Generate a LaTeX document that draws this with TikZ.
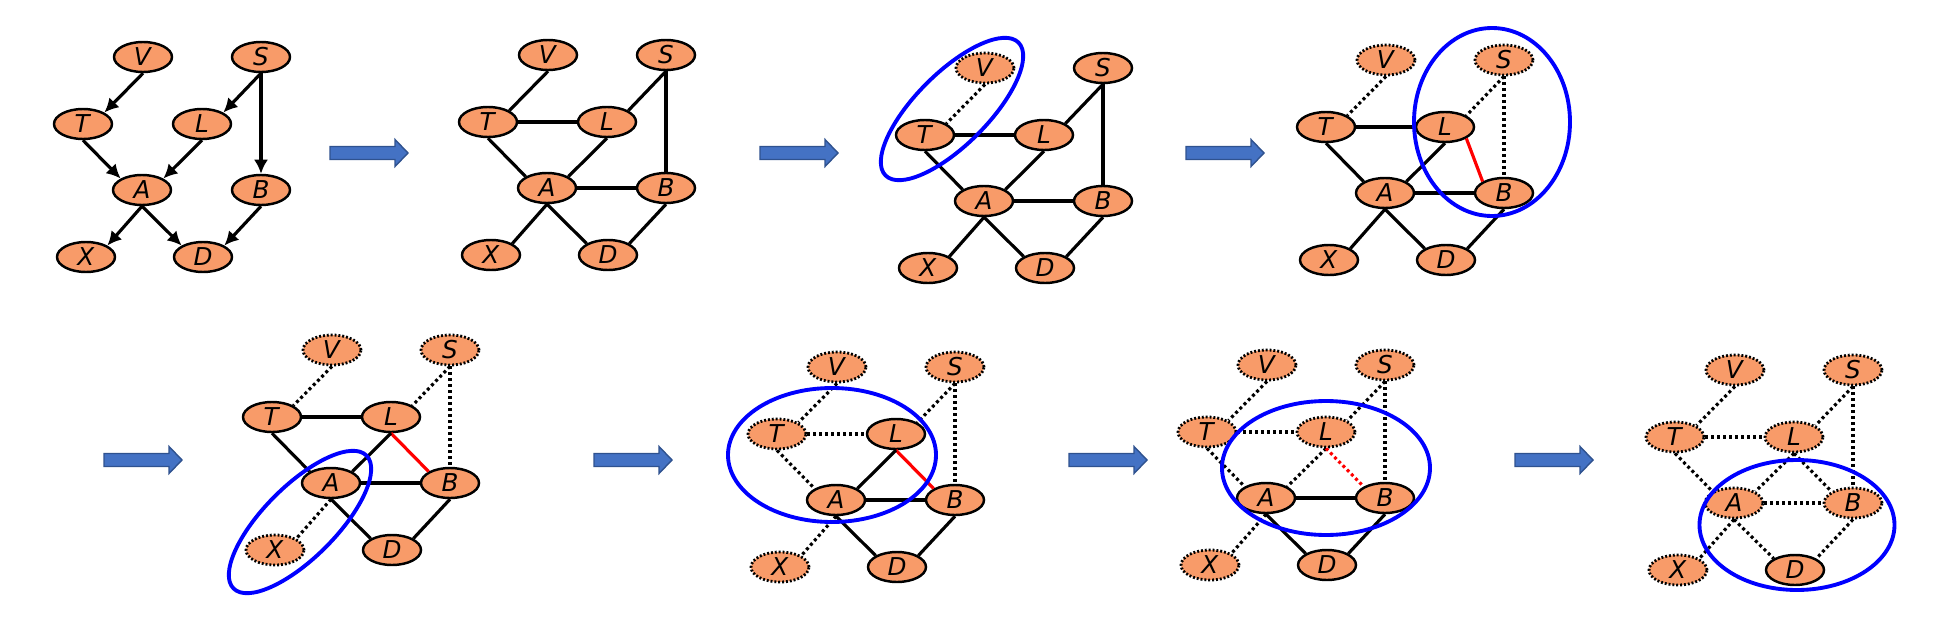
\documentclass[tikz,border=0pt]{standalone}
\usepackage{fontspec}
\setmainfont{DejaVu Sans}
\usetikzlibrary{shapes.geometric,arrows.meta}

\definecolor{nodeorange}{RGB}{248,155,105}
\definecolor{arrowblue}{RGB}{68,114,196}
\definecolor{arrowedge}{RGB}{47,82,143}

% the eight variables of one panel, #1 = prefix, #2..#9 = extra style of V S T L A B X D
\newcommand{\bnnodes}[9]{%
	\node[var,#2] (#1V) at (0,0) {\textit{V}};
	\node[var,#3] (#1S) at (118,0) {\textit{S}};
	\node[var,#4] (#1T) at (-60,67) {\textit{T}};
	\node[var,#5] (#1L) at (59,67) {\textit{L}};
	\node[var,#6] (#1A) at (-1,133) {\textit{A}};
	\node[var,#7] (#1B) at (118,133) {\textit{B}};
	\node[var,#8] (#1X) at (-57,200) {\textit{X}};
	\node[var,#9] (#1D) at (60,200) {\textit{D}};
}

\tikzset{
	bigarrow/.pic={
		\draw[arrowedge,fill=arrowblue,line width=0.8pt] (0,-6.5) -- (65,-6.5) -- (65,-13.5) -- (78,0) -- (65,13.5) -- (65,6.5) -- (0,6.5) -- cycle;
	}
}

\begin{document}
\begin{tikzpicture}[x=0.02cm,y=-0.02cm,
	var/.style={ellipse,draw,line width=1.4pt,fill=nodeorange,minimum width=1.16cm,minimum height=0.6cm,inner sep=0pt,font=\fontsize{14}{16}\selectfont},
	elim/.style={line width=1.6pt,dash pattern=on 1.1pt off 1.1pt},
	link/.style={line width=1.8pt},
	dotlink/.style={link,dash pattern=on 1.7pt off 1.7pt},
	redlink/.style={link,red},
	causal/.style={link,-{Latex[length=8pt,width=8pt]}},
	clique/.style={blue,line width=2.2pt}]
	
	\useasboundingbox (0,0) rectangle (1935,622);
	
	% arrows between the panels
	\pic at (330,153) {bigarrow};
	\pic at (760,153) {bigarrow};
	\pic at (1186,153) {bigarrow};
	\pic at (104,460) {bigarrow};
	\pic at (594,460) {bigarrow};
	\pic at (1069,460) {bigarrow};
	\pic at (1515,460) {bigarrow};
	
	% 1: the network
	\begin{scope}[shift={(143,57)}]
		\bnnodes{p1}{}{}{}{}{}{}{}{}
	\end{scope}
	\draw[causal] (p1V.south) -- (p1T.north east);
	\draw[causal] (p1S.south) -- (p1L.north east);
	\draw[causal] (p1S.south) -- (p1B.north);
	\draw[causal] (p1T.south) -- (p1A.north west);
	\draw[causal] (p1L.south) -- (p1A.north east);
	\draw[causal] (p1A.south) -- (p1X.north east);
	\draw[causal] (p1A.south) -- (p1D.north west);
	\draw[causal] (p1B.south) -- (p1D.north east);
	
	% 2: moral graph
	\begin{scope}[shift={(548,55)}]
		\bnnodes{p2}{}{}{}{}{}{}{}{}
	\end{scope}
	\draw[link] (p2V.south) -- (p2T.north east);
	\draw[link] (p2T.east) -- (p2L.west);
	\draw[link] (p2S.south) -- (p2L.north east);
	\draw[link] (p2S.south) -- (p2B.north);
	\draw[link] (p2T.south) -- (p2A.north west);
	\draw[link] (p2L.south) -- (p2A.north east);
	\draw[link] (p2A.east) -- (p2B.west);
	\draw[link] (p2A.south) -- (p2X.north east);
	\draw[link] (p2A.south) -- (p2D.north west);
	\draw[link] (p2B.south) -- (p2D.north east);
	
	% 3
	\begin{scope}[shift={(985,68)}]
		\bnnodes{p3}{elim}{}{}{}{}{}{}{}
	\end{scope}
	\draw[dotlink] (p3V.south) -- (p3T.north east);
	\draw[link] (p3T.east) -- (p3L.west);
	\draw[link] (p3S.south) -- (p3L.north east);
	\draw[link] (p3S.south) -- (p3B.north);
	\draw[link] (p3T.south) -- (p3A.north west);
	\draw[link] (p3L.south) -- (p3A.north east);
	\draw[link] (p3A.east) -- (p3B.west);
	\draw[link] (p3A.south) -- (p3X.north east);
	\draw[link] (p3A.south) -- (p3D.north west);
	\draw[link] (p3B.south) -- (p3D.north east);
	\draw[clique,rotate around={45:(952,109)}] (952,109) ellipse [x radius=94,y radius=36];
	
	% 4
	\begin{scope}[shift={(1386,60)}]
		\bnnodes{p4}{elim}{elim}{}{}{}{}{}{}
	\end{scope}
	\draw[dotlink] (p4V.south) -- (p4T.north east);
	\draw[dotlink] (p4S.south) -- (p4L.north east);
	\draw[dotlink] (p4S.south) -- (p4B.north);
	\draw[redlink] (p4L.south east) -- (p4B.north west);
	\draw[link] (p4T.east) -- (p4L.west);
	\draw[link] (p4T.south) -- (p4A.north west);
	\draw[link] (p4L.south) -- (p4A.north east);
	\draw[link] (p4A.east) -- (p4B.west);
	\draw[link] (p4A.south) -- (p4X.north east);
	\draw[link] (p4A.south) -- (p4D.north west);
	\draw[link] (p4B.south) -- (p4D.north east);
	\draw[clique] (1492,122) ellipse [x radius=78,y radius=94];
	
	% 5
	\begin{scope}[shift={(332,350)}]
		\bnnodes{p5}{elim}{elim}{}{}{}{}{elim}{}
	\end{scope}
	\draw[dotlink] (p5V.south) -- (p5T.north east);
	\draw[dotlink] (p5S.south) -- (p5L.north east);
	\draw[dotlink] (p5S.south) -- (p5B.north);
	\draw[dotlink] (p5A.south) -- (p5X.north east);
	\draw[redlink] (p5L.south) -- (p5B.north west);
	\draw[link] (p5T.east) -- (p5L.west);
	\draw[link] (p5T.south) -- (p5A.north west);
	\draw[link] (p5L.south) -- (p5A.north east);
	\draw[link] (p5A.east) -- (p5B.west);
	\draw[link] (p5A.south) -- (p5D.north west);
	\draw[link] (p5B.south) -- (p5D.north east);
	\draw[clique,rotate around={45:(300,522)}] (300,522) ellipse [x radius=94,y radius=36];
	
	% 6
	\begin{scope}[shift={(837,367)}]
		\bnnodes{p6}{elim}{elim}{elim}{}{}{}{elim}{}
	\end{scope}
	\draw[dotlink] (p6V.south) -- (p6T.north east);
	\draw[dotlink] (p6S.south) -- (p6L.north east);
	\draw[dotlink] (p6S.south) -- (p6B.north);
	\draw[dotlink] (p6T.east) -- (p6L.west);
	\draw[dotlink] (p6T.south) -- (p6A.north west);
	\draw[dotlink] (p6A.south) -- (p6X.north east);
	\draw[redlink] (p6L.south) -- (p6B.north west);
	\draw[link] (p6L.south) -- (p6A.north east);
	\draw[link] (p6A.east) -- (p6B.west);
	\draw[link] (p6A.south) -- (p6D.north west);
	\draw[link] (p6B.south) -- (p6D.north east);
	\draw[clique] (832,455) ellipse [x radius=104,y radius=67];
	
	% 7
	\begin{scope}[shift={(1267,365)}]
		\bnnodes{p7}{elim}{elim}{elim}{elim}{}{}{elim}{}
	\end{scope}
	\draw[dotlink] (p7V.south) -- (p7T.north east);
	\draw[dotlink] (p7S.south) -- (p7L.north east);
	\draw[dotlink] (p7S.south) -- (p7B.north);
	\draw[dotlink] (p7T.east) -- (p7L.west);
	\draw[dotlink] (p7T.south) -- (p7A.north west);
	\draw[dotlink] (p7L.south) -- (p7A.north east);
	\draw[dotlink] (p7A.south) -- (p7X.north east);
	\draw[dotlink,red] (p7L.south) -- (p7B.north west);
	\draw[link] (p7A.east) -- (p7B.west);
	\draw[link] (p7A.south) -- (p7D.north west);
	\draw[link] (p7B.south) -- (p7D.north east);
	\draw[clique] (1326,468) ellipse [x radius=104,y radius=67];
	
	% 8
	\begin{scope}[shift={(1735,370)}]
		\bnnodes{p8}{elim}{elim}{elim}{elim}{elim}{elim}{elim}{}
	\end{scope}
	\draw[dotlink] (p8V.south) -- (p8T.north east);
	\draw[dotlink] (p8S.south) -- (p8L.north east);
	\draw[dotlink] (p8S.south) -- (p8B.north);
	\draw[dotlink] (p8T.east) -- (p8L.west);
	\draw[dotlink] (p8T.south) -- (p8A.north west);
	\draw[dotlink] (p8L.south) -- (p8A.north east);
	\draw[dotlink] (p8L.south) -- (p8B.north west);
	\draw[dotlink] (p8A.east) -- (p8B.west);
	\draw[dotlink] (p8A.south) -- (p8X.north east);
	\draw[dotlink] (p8A.south) -- (p8D.north west);
	\draw[dotlink] (p8B.south) -- (p8D.north east);
	\draw[clique] (1797,525) ellipse [x radius=97.5,y radius=65];
	
\end{tikzpicture}
\end{document}
